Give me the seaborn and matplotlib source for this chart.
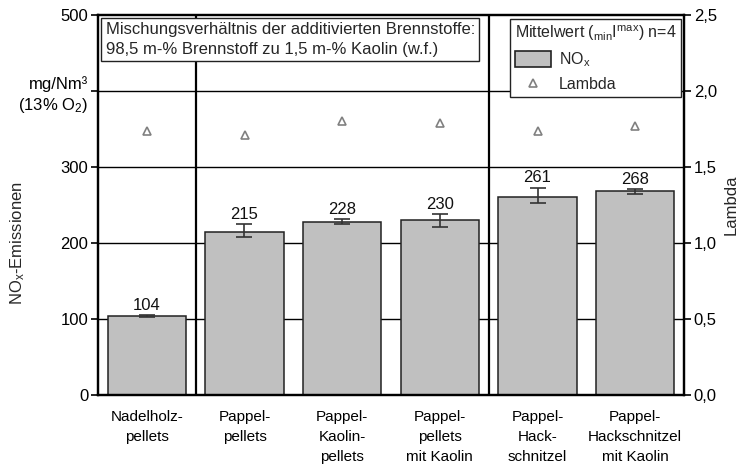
import numpy as np
import pandas as pd
import matplotlib
matplotlib.use("Agg")
import matplotlib.pyplot as plt
from matplotlib.patches import Patch
from matplotlib.lines import Line2D
from matplotlib.ticker import FuncFormatter
import seaborn as sns

# Data
categories = ["Nadelholz-\npellets", "Pappel-\npellets", "Pappel-\nKaolin-\npellets",
              "Pappel-\npellets\nmit Kaolin", "Pappel-\nHack-\nschnitzel",
              "Pappel-\nHackschnitzel\nmit Kaolin"]
nox_mean = [104, 215, 228, 230, 261, 268]
nox_min = [103, 208, 225, 221, 252, 264]
nox_max = [105, 225, 231, 238, 273, 271]
lambda_mean = [1.74, 1.71, 1.80, 1.79, 1.74, 1.77]

sns.set_theme(style="white")
plt.rcParams["font.family"] = ["Liberation Sans", "DejaVu Sans"]
plt.rcParams["mathtext.fontset"] = "custom"
plt.rcParams["mathtext.rm"] = "Liberation Sans"
plt.rcParams["mathtext.it"] = "Liberation Sans"
FS_TICK = 12
FS_CAT = 11
FS_BOX = 12
FS_LEG = 11.5

df = pd.DataFrame({"Brennstoff": categories, "NOx": nox_mean})

fig = plt.figure(figsize=(7.44, 4.67), dpi=100)
ax = fig.add_axes([98 / 744, 1 - 395 / 467, 586 / 744, 380 / 467])

# Horizontal grid lines and group separators behind the bars
for yv in [100, 200, 300, 400]:
    ax.axhline(yv, color="black", lw=1.0, zorder=0)
for xv in [0.5, 3.5]:
    ax.axvline(xv, color="black", lw=1.6, zorder=0)

sns.barplot(data=df, x="Brennstoff", y="NOx", ax=ax, color="#c0c0c0",
            saturation=1, width=0.8, edgecolor="#222222", linewidth=1.1,
            errorbar=None, zorder=2)

xpos = np.arange(len(categories))
mean = np.array(nox_mean)
yerr = np.vstack([mean - np.array(nox_min), np.array(nox_max) - mean])
ax.errorbar(xpos, mean, yerr=yerr, fmt="none", ecolor="#333333",
            elinewidth=1.2, capsize=6, capthick=1.2, zorder=3)
for xi, v, hi in zip(xpos, nox_mean, nox_max):
    ax.annotate(f"{v}", (xi, hi), xytext=(0, 1.5), textcoords="offset points",
                ha="center", va="bottom", fontsize=FS_TICK, color="#111111")

ax.set_xlim(-0.5, 5.5)
ax.set_ylim(0, 500)
ax.set_yticks([0, 100, 200, 300, 400, 500])
ax.set_yticklabels(["0", "100", "200", "300", "mg/Nm³\n(13% O$_2$)", "500"],
                   fontsize=FS_TICK, linespacing=1.3)
ax.set_xticks(xpos)
ax.set_xticklabels(categories, fontsize=FS_CAT, linespacing=1.55)
ax.set_xlabel("")
ax.set_ylabel("NO$_x$-Emissionen", fontsize=FS_TICK)
ax.yaxis.set_label_coords(-0.122, 0.40)
ax.tick_params(axis="both", direction="out", length=5, width=1.2,
               colors="black", labelcolor="black", pad=2)
ax.tick_params(axis="x", length=5, pad=6)
for s in ax.spines.values():
    s.set_color("black")
    s.set_linewidth(1.6)

# Lambda on the secondary axis
ax2 = ax.twinx()
ax2.plot(xpos, lambda_mean, linestyle="none", marker="^", markersize=6,
         markerfacecolor="none", markeredgecolor="#808080", markeredgewidth=1.2)
ax2.set_ylim(0, 2.5)
ax2.set_yticks([0, 0.5, 1.0, 1.5, 2.0, 2.5])
ax2.yaxis.set_major_formatter(FuncFormatter(lambda v, p: f"{v:.1f}".replace(".", ",")))
ax2.tick_params(axis="y", direction="out", length=5, width=1.2, colors="black",
                labelsize=FS_TICK, labelcolor="black", pad=2)
ax2.set_ylabel("Lambda", fontsize=FS_TICK, labelpad=5)
for s in ax2.spines.values():
    s.set_color("black")
    s.set_linewidth(1.6)

# Blend note
ax2.text(0.013, 0.982,
         "Mischungsverhältnis der additivierten Brennstoffe:\n98,5 m-% Brennstoff zu 1,5 m-% Kaolin (w.f.)",
         transform=ax.transAxes, ha="left", va="top", fontsize=FS_BOX, linespacing=1.4,
         bbox=dict(boxstyle="square,pad=0.25", facecolor="white",
                   edgecolor="#222222", linewidth=1.0), zorder=5)

handles = [Patch(facecolor="#c0c0c0", edgecolor="#222222", linewidth=1.2),
           Line2D([], [], linestyle="none", marker="^", markersize=6,
                  markerfacecolor="none", markeredgecolor="#808080",
                  markeredgewidth=1.2)]
leg = ax2.legend(handles, ["NO$_x$", "Lambda"],
                 title=r"Mittelwert ($_{\mathrm{min}}$I$^{\mathrm{max}}$) n=4",
                 loc="upper right", bbox_to_anchor=(0.995, 0.99),
                 fontsize=FS_LEG, title_fontsize=FS_LEG, frameon=True, fancybox=False,
                 framealpha=1, edgecolor="#222222", borderpad=0.3,
                 handlelength=2.3, handleheight=1.1, handletextpad=0.45,
                 labelspacing=0.45, borderaxespad=0)
leg.get_frame().set_linewidth(1.0)
leg._legend_box.align = "left"

fig.savefig("out.png", dpi=100)
